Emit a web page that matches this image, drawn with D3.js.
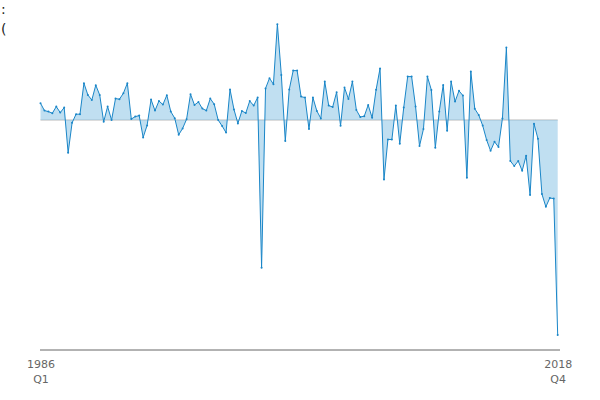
<!DOCTYPE html>
<html>
<head>
<meta charset="utf-8">
<script src="https://cdn.jsdelivr.net/npm/d3@7"></script>
<style>
  html, body { margin: 0; padding: 0; background: #fff; }
  svg { display: block; }
</style>
</head>
<body>
<svg id="chart" width="600" height="400"></svg>
<script>
const years = d3.range(1986, 2019);
const quarters = ["Q1", "Q2", "Q3", "Q4"];
const categories = years.flatMap(y => quarters.map(q => y + " " + q));
const values = [
  0.84, 0.47, 0.42, 0.34, 0.67, 0.37, 0.62, -1.64, -0.14, 0.29,
  0.29, 1.84, 1.25, 1.00, 1.74, 1.25, -0.09, 0.67, 0.00, 1.07,
  1.04, 1.34, 1.84, 0.05, 0.17, 0.22, -0.87, -0.27, 1.02, 0.47,
  0.95, 0.77, 1.24, 0.42, 0.09, -0.74, -0.42, 0.04, 1.29, 0.75,
  0.90, 0.57, 0.47, 1.07, 0.79, 0.00, -0.30, -0.63, 1.53, 0.53,
  -0.17, 0.45, 0.35, 0.95, 0.72, 1.13, -7.39, 1.58, 2.09, 1.79,
  4.79, 2.25, -1.05, 1.52, 2.47, 2.47, 1.17, 1.12, -0.45, 1.12,
  0.45, 0.08, 1.92, 0.72, 0.65, 1.39, -0.29, 1.62, 1.05, 1.92,
  0.50, 0.15, 0.19, 0.75, 0.11, 1.51, 2.58, -2.98, -0.97, -0.98,
  0.73, -1.19, 0.62, 2.17, 2.17, 0.67, -1.30, -0.45, 2.17, 1.50,
  -1.39, 0.42, 1.75, -0.54, 1.92, 0.92, 1.46, 1.22, -2.89, 2.42,
  0.56, 0.25, -0.28, -1.00, -1.54, -1.09, -1.35, 0.08, 3.62, -2.05,
  -2.30, -2.05, -2.54, -1.79, -3.75, -0.19, -0.94, -3.70, -4.34, -3.90,
  -3.93, -10.75
];
const tickLabels = ["1986 Q1", "2018 Q4"];
const titleMarks = [":", "("];

const data = categories.map((c, i) => ({ c, v: values[i] }));

const svg = d3.select("#chart");
const x = d3.scalePoint().domain(categories).range([40.5, 557.7]);
const y = d3.scaleLinear().domain([-11, 5]).range([340, 20]);

// title remnants visible at the left edge
svg.append("text").attr("x", 1).attr("y", 14)
  .attr("font-family", "DejaVu Sans, sans-serif").attr("font-size", 14).attr("fill", "#222")
  .text(titleMarks[0]);
svg.append("text").attr("x", 1).attr("y", 34)
  .attr("font-family", "DejaVu Sans, sans-serif").attr("font-size", 14).attr("fill", "#222")
  .text(titleMarks[1]);

// zero line
svg.append("line")
  .attr("x1", x(categories[0])).attr("x2", x(categories[categories.length - 1]))
  .attr("y1", y(0)).attr("y2", y(0))
  .attr("stroke", "#dcdcdc").attr("stroke-width", 2);

const area = d3.area().x(d => x(d.c)).y0(y(0)).y1(d => y(d.v));
svg.append("path").datum(data).attr("d", area)
  .attr("fill", "#8cc4e6").attr("fill-opacity", 0.55);

const line = d3.line().x(d => x(d.c)).y(d => y(d.v));
svg.append("path").datum(data).attr("d", line)
  .attr("fill", "none").attr("stroke", "#1a86c8").attr("stroke-width", 1);

svg.append("g").selectAll("circle").data(data).join("circle")
  .attr("cx", d => x(d.c)).attr("cy", d => y(d.v)).attr("r", 1)
  .attr("fill", "#1a86c8");

// x axis
const axis = d3.axisBottom(x).tickValues(tickLabels).tickSize(0).tickPadding(10);
const gx = svg.append("g").attr("transform", "translate(0,350)").call(axis);
gx.select(".domain").attr("stroke", "#666").attr("d", "M40,0H560");
gx.selectAll(".tick text").each(function(d) {
  const parts = d.split(" ");
  const t = d3.select(this).text(null)
    .attr("font-family", "DejaVu Sans, sans-serif").attr("font-size", 11).attr("fill", "#666");
  t.append("tspan").attr("x", 0).attr("dy", "0.71em").text(parts[0]);
  t.append("tspan").attr("x", 0).attr("dy", "1.35em").text(parts[1]);
});
gx.selectAll(".tick text").attr("y", 10).attr("dy", null);
</script>
</body>
</html>
